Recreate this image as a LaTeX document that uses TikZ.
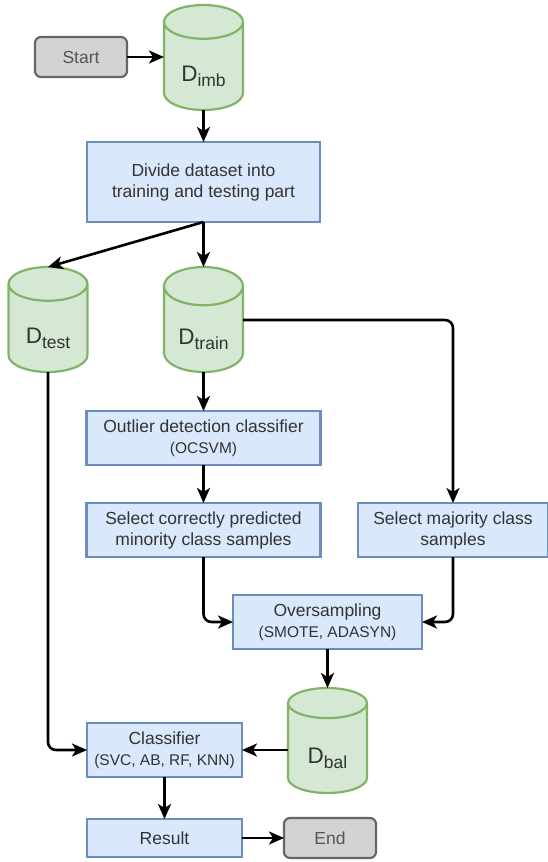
\documentclass[tikz,border=0pt]{standalone}
\usepackage{fontspec}
\setmainfont{Liberation Sans}
\usepackage{tikz}
\usetikzlibrary{positioning, arrows.meta, shapes.geometric}
\definecolor{Box_Blue}{HTML}{DAE8FC}
\definecolor{Box_BlueLine}{HTML}{6C8EBF}
\definecolor{DB_Green}{HTML}{D5E8D4}
\definecolor{DB_GreenLine}{HTML}{82B366}
\definecolor{Term_Gray}{HTML}{D3D3D3}
\definecolor{Term_GrayLine}{HTML}{666666}
\definecolor{Txt_Dark}{HTML}{333333}
\definecolor{Txt_Gray}{HTML}{555555}
\newcommand{\dset}[1]{{\fontsize{22.5}{22.5}\selectfont D\raisebox{-5pt}{\fontsize{17.5}{17.5}\selectfont #1}}}
\newcommand{\dbtext}[1]{\raisebox{-15pt}[0pt][0pt]{\dset{#1}}}
\newcommand{\subline}[1]{{\fontsize{15.5}{19}\selectfont #1}}

\begin{document}
\begin{tikzpicture}[x=1pt, y=-1pt,
  every node/.style={font=\fontsize{17.5}{21}\selectfont, text=Txt_Dark, inner sep=2pt, outer sep=0pt},
  pbox/.style={draw=Box_BlueLine, fill=Box_Blue, line width=2.2pt, align=center, minimum height=54pt},
  term/.style={draw=Term_GrayLine, fill=Term_Gray, line width=2.2pt, rounded corners=6pt, minimum width=92pt, minimum height=40pt, text=Txt_Gray},
  dbnode/.style={cylinder, shape border rotate=90, aspect=0.76, draw=DB_GreenLine, fill=DB_Green, line width=2.2pt, minimum width=79pt, minimum height=105pt, inner sep=0pt, anchor=north},
  arr/.style={-{Stealth[length=15pt, width=13pt, inset=4pt]}, line width=2.6pt, rounded corners=8pt}
]
  \useasboundingbox (0,0) rectangle (548,862);

  % Top: start and imbalanced data
  \node[term] (start) at (81,57) {Start};
  \node[dbnode] (dimb) at (203.5,5) {\dbtext{imb}};
  \node[pbox, minimum width=233pt, minimum height=80pt] (divide) at (203.5,182) {Divide dataset into\\training and testing part};

  % Split
  \node[dbnode] (dtest) at (48,267) {\dbtext{test}};
  \node[dbnode] (dtrain) at (203.5,267) {\dbtext{train}};

  % Middle: resampling
  \node[pbox, minimum width=234pt] (outl) at (203.5,438) {Outlier detection classifier\\\subline{(OCSVM)}};
  \node[pbox, minimum width=234pt, below=38pt of outl] (selmin) {Select correctly predicted\\minority class samples};
  \node[pbox, minimum width=190pt] (selmaj) at (453,530) {Select majority class\\samples};
  \node[pbox, minimum width=189pt] (over) at (327.5,622) {Oversampling\\\subline{(SMOTE, ADASYN)}};
  \node[dbnode, below=39pt of over] (dbal) {\dbtext{bal}};

  % Bottom: classification
  \node[pbox, minimum width=155pt] (clf) at (164.5,750) {Classifier\\\subline{(SVC, AB, RF, KNN)}};
  \node[pbox, minimum width=155pt, minimum height=38pt, below=42pt of clf] (result) {Result};
  \node[term, right=42pt of result] (end) {End};

  % Connections
  \draw[arr] (start.east) -- (start.east -| dimb.west);
  \draw[arr] (dimb.south) -- (divide.north);
  \draw[arr] (divide.south) -- (dtest.north);
  \draw[arr] (divide.south) -- (dtrain.north);
  \draw[arr] (dtrain.south) -- (outl.north);
  \draw[arr] (outl.south) -- (selmin.north);
  % majority samples go straight from the training set
  \draw[arr] ([yshift=-53pt]dtrain.north -| dtrain.east) -| (selmaj.north);
  \draw[arr] (selmin.south) |- (over.west);
  \draw[arr] (selmaj.south) |- (over.east);
  \draw[arr] (over.south) -- (dbal.north);
  \draw[arr] (dbal.west |- clf.east) -- (clf.east);
  \draw[arr] (dtest.south) |- (clf.west);
  \draw[arr] (clf.south) -- (result.north);
  \draw[arr] (result.east) -- (end.west);
\end{tikzpicture}
\end{document}
